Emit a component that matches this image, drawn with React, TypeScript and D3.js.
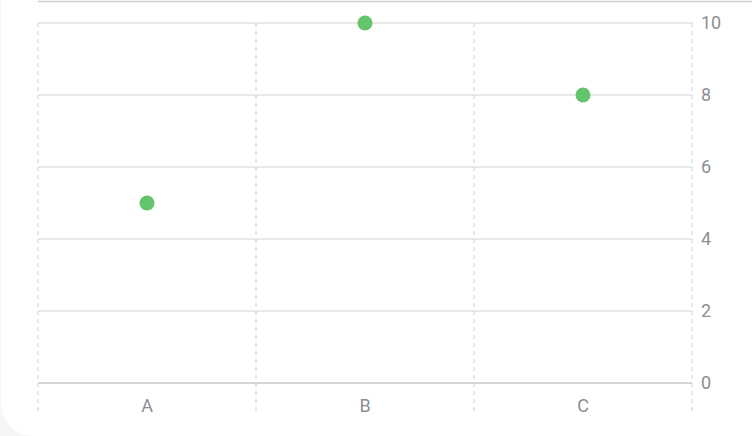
import * as d3 from "d3";
import React from "react";

const categories = ["A", "B", "C"];
const values = [5, 10, 8];
const yTicks = [0, 2, 4, 6, 8, 10];

const W = 752;
const H = 436;
const margin = { top: 23, right: 60, bottom: 53, left: 38 };

const App: React.FC = () => {
  const x = d3
    .scaleBand<string>()
    .domain(categories)
    .range([margin.left, W - margin.right]);
  const y = d3
    .scaleLinear()
    .domain([0, 10])
    .range([H - margin.bottom, margin.top]);

  // vertical dashed separators sit on band edges
  const edges = [...categories.map((c) => x(c)!), x.range()[1]];
  const font = "Roboto, 'Noto Sans', sans-serif";

  return (
    <div style={{ position: "absolute", left: 0, top: 0 }}>
      <svg width={W} height={H} style={{ display: "block" }}>
        <rect x={0} y={0} width={W} height={H} fill="#f6f6f7" />
        <rect x={1} y={-40} width={W + 40} height={H + 40} rx={32} fill="#ffffff" />
        <line x1={margin.left} x2={W} y1={1.5} y2={1.5} stroke="#d0d0d0" strokeWidth={1.5} />
        {yTicks.map((t) => (
          <g key={t}>
            <line
              x1={margin.left}
              x2={W - margin.right}
              y1={y(t)}
              y2={y(t)}
              stroke={t === 0 ? "#c8c8c8" : "#d3d3d3"}
              strokeWidth={t === 0 ? 1.5 : 1}
            />
            <text
              x={W - margin.right + 9}
              y={y(t)}
              dy="0.36em"
              fontSize={18}
              fill="#8e8e93"
              fontFamily={font}
            >
              {t}
            </text>
          </g>
        ))}
        {edges.map((e, i) => (
          <line
            key={i}
            x1={e}
            x2={e}
            y1={y(10)}
            y2={H - 23}
            stroke="#cccccc"
            strokeWidth={1}
            strokeDasharray="4,4"
          />
        ))}
        {categories.map((c) => (
          <text
            key={c}
            x={x(c)! + x.bandwidth() / 2}
            y={H - 24}
            textAnchor="middle"
            fontSize={18}
            fill="#8e8e93"
            fontFamily={font}
          >
            {c}
          </text>
        ))}
        {values.map((v, i) => (
          <circle
            key={i}
            cx={x(categories[i])! + x.bandwidth() / 2}
            cy={y(v)}
            r={7.5}
            fill="#62c46b"
          />
        ))}
      </svg>
    </div>
  );
};

export default App;
